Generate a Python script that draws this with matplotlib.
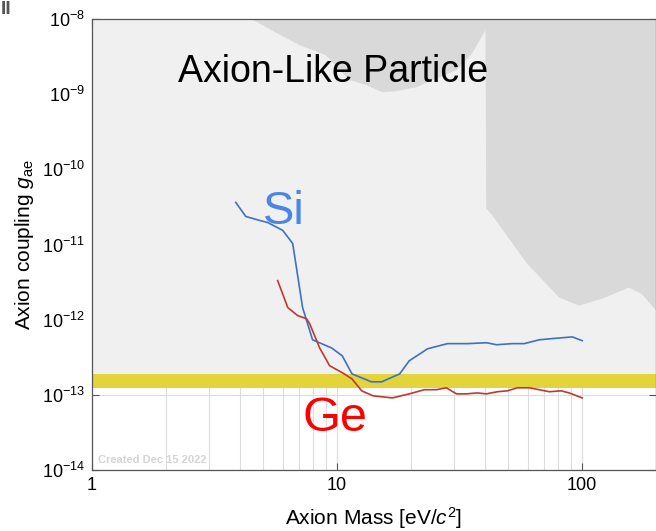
import numpy as np
import matplotlib
matplotlib.use("Agg")
from matplotlib import pyplot as plt

plt.rcParams['font.family'] = ['Liberation Sans', 'DejaVu Sans']
plt.rcParams['mathtext.fontset'] = 'custom'
plt.rcParams['mathtext.rm'] = 'Liberation Sans'
plt.rcParams['mathtext.it'] = 'Liberation Sans:italic'
plt.rcParams['mathtext.bf'] = 'Liberation Sans:bold'

# Si limit (blue)
si_mass = [3.86, 4.24, 4.83, 5.21, 6.0, 6.59, 7.23, 7.94, 9.5, 10.5, 11.5, 13.8, 15.2,
           18.0, 19.7, 23.4, 28.2, 34.0, 40.7, 44.7, 51.9, 58.0, 66.8, 75.5, 91.1, 100]
si_g = [3.63e-11, 2.36e-11, 2.09e-11, 1.96e-11, 1.54e-11, 1.03e-11, 1.45e-12, 5.4e-13,
        4.2e-13, 3.3e-13, 1.9e-13, 1.49e-13, 1.49e-13, 1.9e-13, 2.84e-13, 4.1e-13,
        4.8e-13, 4.8e-13, 4.93e-13, 4.64e-13, 4.8e-13, 4.8e-13, 5.4e-13, 5.6e-13,
        5.9e-13, 5.25e-13]

# Ge limit (red)
ge_mass = [5.72, 6.29, 6.91, 7.51, 7.73, 8.49, 9.32, 10.5, 11.5, 12.6, 14.0, 16.8, 19.7,
           22.7, 25.4, 27.9, 30.7, 33.7, 37.3, 40.6, 45.1, 49.5, 54.4, 60.8, 66.8, 73.4,
           82.1, 88.5, 100]
ge_g = [3.31e-12, 1.45e-12, 1.13e-12, 1.03e-12, 8.8e-13, 4.2e-13, 2.44e-13, 1.97e-13,
        1.63e-13, 1.13e-13, 9.7e-14, 9.1e-14, 1.03e-13, 1.17e-13, 1.17e-13, 1.24e-13,
        1.03e-13, 1.03e-13, 1.06e-13, 1.03e-13, 1.1e-13, 1.13e-13, 1.24e-13, 1.24e-13,
        1.17e-13, 1.1e-13, 1.13e-13, 1.06e-13, 9.1e-14]

# excluded region (dark grey)
excl_mass = [4.48, 5.67, 7.03, 8.98, 11.2, 13.2, 15.3, 17.5, 21.1, 24.5, 30.7, 35.6, 40.3,
             40.6, 43.0, 59.1, 80.6, 97.2, 120.6, 155, 175, 200, 200]
excl_g = [1e-8, 6.5e-9, 4.5e-9, 3.3e-9, 1.54e-9, 1.32e-9, 1.06e-9, 1.1e-9, 1.24e-9, 1.54e-9,
          2.09e-9, 3.5e-9, 7.1e-9, 3.0e-11, 2.44e-11, 5.75e-12, 1.96e-12, 1.54e-12, 1.9e-12,
          2.67e-12, 2.2e-12, 1.32e-12, 1e-8]

band_lo, band_hi = 1.24e-13, 1.9e-13
xmin, xmax = 1, 200
ymin, ymax = 1e-14, 1e-8

fig = plt.figure(figsize=(6.56, 5.31), dpi=100)
ax = fig.add_axes([92/656, 61/531, 564/656, 451/531])
ax.set_xscale('log')
ax.set_yscale('log')
ax.set_xlim(xmin, xmax)
ax.set_ylim(ymin, ymax)

ax.set_axisbelow(True)
ax.grid(True, which='both', axis='x', color='#dcdcdc', lw=0.8)
ax.grid(True, which='major', axis='y', color='#dcdcdc', lw=0.8)

ax.fill_between([xmin, xmax], band_lo, ymax, color='#f0f0f0', lw=0, zorder=1)
ax.fill(excl_mass, excl_g, color='#d9d9d9', lw=0, zorder=1.5)
ax.fill_between([xmin, xmax], band_lo, band_hi, color='#e2d43a', lw=0, zorder=2)

ax.plot(si_mass, si_g, color='#3b72c4', lw=1.2, zorder=3)
ax.plot(ge_mass, ge_g, color='#c0392f', lw=1.2, zorder=3)

ax.text(0.152, 0.860, 'Axion-Like Particle', transform=ax.transAxes, fontsize=27,
        ha='left', va='baseline', color='black', zorder=4)
ax.text(4.97, 1.9e-11, 'Si', fontsize=34, color='#4a86e8', ha='left', va='baseline', zorder=4)
ax.text(7.24, 3.3e-14, 'Ge', fontsize=35, color='#ff0000', ha='left', va='baseline', zorder=4)
ax.text(0.01, 0.012, 'Created Dec 15 2022', transform=ax.transAxes, fontsize=8,
        fontweight='bold', color='#d4d4d4', ha='left', va='bottom', zorder=4)

ax.set_xticks([1, 10, 100])
ax.set_xticklabels(['1', '10', '100'])
ax.set_yticks([1e-14, 1e-13, 1e-12, 1e-11, 1e-10, 1e-9, 1e-8])
ax.tick_params(which='major', direction='in', length=5, width=0.8, color='#555555',
               labelsize=13, top=True, right=True, pad=5)
ax.tick_params(which='minor', length=0)
for s in ax.spines.values():
    s.set_color('#555555')
    s.set_linewidth(0.9)

ax.set_xlabel(r'Axion Mass [eV/$c^2$]', fontsize=15, labelpad=8)
ax.set_ylabel(r'Axion coupling $g_{\mathrm{ae}}$', fontsize=15, labelpad=4)

fig.text(0.001, 0.999, 'II', fontsize=14, fontweight='bold', color='#555555',
         ha='left', va='top')

fig.savefig('out.png', dpi=100)
